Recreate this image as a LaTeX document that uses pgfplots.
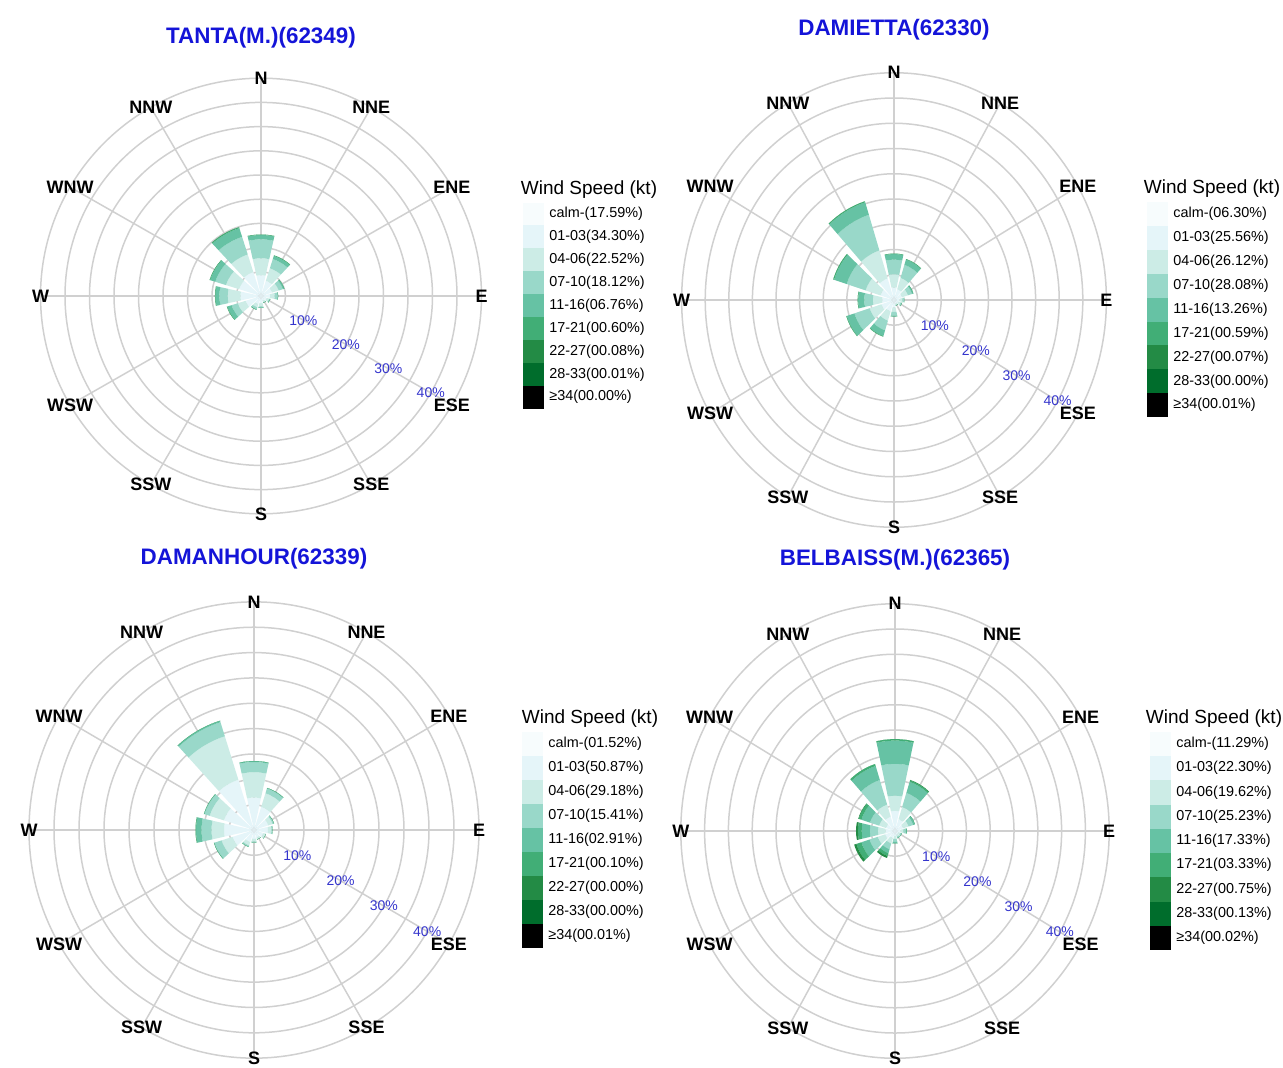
\documentclass[border=0pt]{standalone}
\usepackage{fontspec}
\setmainfont{Liberation Sans}
\usepackage{pgfplots}
\pgfplotsset{compat=1.18}

% BuGn classes for the wind-speed bins
\definecolor{c0}{HTML}{F7FCFD}
\definecolor{c1}{HTML}{E5F5F9}
\definecolor{c2}{HTML}{CCECE6}
\definecolor{c3}{HTML}{99D8C9}
\definecolor{c4}{HTML}{66C2A4}
\definecolor{c5}{HTML}{41AE76}
\definecolor{c6}{HTML}{238B45}
\definecolor{c7}{HTML}{006D2C}
\definecolor{c8}{HTML}{000000}
\definecolor{titleblue}{HTML}{1414D8}
\definecolor{pctblue}{HTML}{3434CC}
\definecolor{ringgray}{HTML}{D0D0D0}

% half opening of each direction sector (degrees)
\def\halfw{12.5}
\def\sx{1}\def\sy{1}

% one annular segment: inner radius, outer radius (percent), colour
\newcommand\annseg[3]{%
  \pgfsetfillcolor{#3}%
  \pgfpathmoveto{\pgfpointpolar{\aa}{#1 pt}}%
  \pgfpathlineto{\pgfpointpolar{\aa}{#2 pt}}%
  \pgfpatharc{\aa}{\ab}{#2 pt}%
  \pgfpathlineto{\pgfpointpolar{\ab}{#1 pt}}%
  \pgfpatharc{\ab}{\aa}{#1 pt}%
  \pgfpathclose
  \pgfusepathqfill}

% stacked bar of one direction; the mark sits on the middle of its outer edge.
% \dd bearing, \rA..\rF cumulative radii (%), \sx/\sy pt per percent
\pgfdeclareplotmark{windsector}{%
  \pgfkeys{/pgf/fpu=false}%
  \pgfmathsetmacro\al{90-\dd}%
  \pgfmathsetmacro\ac{\al+180}%
  \pgfmathsetmacro\aa{\al-\halfw}%
  \pgfmathsetmacro\ab{\al+\halfw}%
  \pgftransformcm{\sx}{0}{0}{\sy}{\pgfpointorigin}%
  \pgftransformshift{\pgfpointpolar{\ac}{\rF pt}}%
  \annseg{0.01}{\rA}{c1}%
  \annseg{\rA}{\rB}{c2}%
  \annseg{\rB}{\rC}{c3}%
  \annseg{\rC}{\rD}{c4}%
  \annseg{\rD}{\rE}{c5}%
  \annseg{\rE}{\rF}{c6}%
}

\pgfplotsset{
  rose/.style={hide axis, anchor=center, clip=false,
    xmin=-47, xmax=47, ymin=-47, ymax=47},
}
\tikzset{
  ringline/.style={ringgray, line width=0.75pt},
  dirlab/.style={font=\bfseries\fontsize{9}{9}\selectfont, text=black, inner sep=0pt},
  pctlab/.style={font=\fontsize{7}{7}\selectfont, text=pctblue, inner sep=0pt},
  titlelab/.style={font=\bfseries\fontsize{11.2}{11.2}\selectfont, text=titleblue, inner sep=0pt},
  legtitle/.style={font=\fontsize{9.5}{9.5}\selectfont, inner sep=0pt},
  legtext/.style={font=\fontsize{7.2}{7.2}\selectfont, anchor=west, inner sep=0pt},
}

% a complete rose: centre x, centre y (pt), pt per percent in x and in y, data
% data columns: d = bearing; cumulative frequency (%) at the outer edge of
% b1 = 01-03, b2 = 04-06, b3 = 07-10, b4 = 11-16, b5 = 17-21, b6 = 22-27 kt
\newcommand\rosepanel[5]{%
  \def\sx{#3}\def\sy{#4}%
  \begin{axis}[rose, at={(#1pt,#2pt)}, x=#3pt, y=#4pt]
    \pgfplotsinvokeforeach{5,10,...,45}{%
      \draw[ringline] (axis cs:0,0) ellipse [x radius=##1, y radius=##1];}
    \pgfplotsinvokeforeach{0,30,...,330}{%
      \draw[ringline] (axis cs:0,0) -- (axis cs:{45*sin(##1)},{45*cos(##1)});}
    \addplot[scatter, only marks, mark=windsector, point meta=y,
      scatter/@pre marker code/.code={\pgfscope},
      scatter/@post marker code/.code={\endpgfscope},
      visualization depends on={value \thisrow{d}\as\dd},
      visualization depends on={value \thisrow{b1}\as\rA},
      visualization depends on={value \thisrow{b2}\as\rB},
      visualization depends on={value \thisrow{b3}\as\rC},
      visualization depends on={value \thisrow{b4}\as\rD},
      visualization depends on={value \thisrow{b5}\as\rE},
      visualization depends on={value \thisrow{b6}\as\rF}]
      table[row sep=\\, x expr={\thisrow{b6}*sin(\thisrow{d})},
            y expr={\thisrow{b6}*cos(\thisrow{d})}] {#5};
    \node[dirlab] at (axis cs:0,45) {N};
    \node[dirlab] at (axis cs:{45*sin(30)},{45*cos(30)}) {NNE};
    \node[dirlab] at (axis cs:{45*sin(60)},{45*cos(60)}) {ENE};
    \node[dirlab] at (axis cs:45,0) {E};
    \node[dirlab] at (axis cs:{45*sin(120)},{45*cos(120)}) {ESE};
    \node[dirlab] at (axis cs:{45*sin(150)},{45*cos(150)}) {SSE};
    \node[dirlab] at (axis cs:0,-45) {S};
    \node[dirlab] at (axis cs:{45*sin(210)},{45*cos(210)}) {SSW};
    \node[dirlab] at (axis cs:{45*sin(240)},{45*cos(240)}) {WSW};
    \node[dirlab] at (axis cs:-45,0) {W};
    \node[dirlab] at (axis cs:{45*sin(300)},{45*cos(300)}) {WNW};
    \node[dirlab] at (axis cs:{45*sin(330)},{45*cos(330)}) {NNW};
    \node[pctlab] at (axis cs:{10*sin(120)},{10*cos(120)}) {10\%};
    \node[pctlab] at (axis cs:{20*sin(120)},{20*cos(120)}) {20\%};
    \node[pctlab] at (axis cs:{30*sin(120)},{30*cos(120)}) {30\%};
    \node[pctlab] at (axis cs:{40*sin(120)},{40*cos(120)}) {40\%};
  \end{axis}}

% legend: patch left x, first row y, row step, title x, title y, entries
\newcommand\windlegend[6]{%
  \node[legtitle] at (#4,#5) {Wind Speed (kt)};
  \foreach \v [count=\i from 0] in {#6}{%
    \fill[fill=c\i] (#1,{#2+(\i-0.5)*#3}) rectangle ++(21,#3);
    \node[legtext] at ({#1+26},{#2+\i*#3}) {\v};
  }%
}

\begin{document}
\begin{tikzpicture}
\useasboundingbox (0,0) rectangle (641.5pt,-533.5pt);

% TANTA(M.)(62349)
\rosepanel{130.5}{-148}{2.45}{2.42}{
d   b1   b2   b3   b4   b5   b6 \\
0   4.3  7.8  11.7 12.6 12.7 12.7 \\
30  3.3  6.0  8.0  8.7  8.8  8.8 \\
60  2.4  3.8  4.7  5.0  5.0  5.0 \\
90  1.9  2.8  3.4  3.5  3.5  3.5 \\
120 1.3  1.8  2.0  2.0  2.0  2.0 \\
150 1.0  1.4  1.5  1.5  1.5  1.5 \\
180 1.5  2.2  2.5  2.5  2.5  2.5 \\
210 1.8  2.5  2.9  3.0  3.0  3.0 \\
240 3.3  5.0  6.3  7.2  7.3  7.3 \\
270 4.2  6.8  8.5  9.3  9.4  9.4 \\
300 4.7  7.5  9.8  10.9 11.0 11.0 \\
330 5.2  9.0  12.8 14.7 14.9 14.9 \\
}
% DAMIETTA(62330)
\rosepanel{447}{-150}{2.36}{2.525}{
d   b1   b2   b3   b4   b5   b6 \\
0   2.5  5.1  8.0  9.1  9.2  9.2 \\
30  2.3  4.6  7.3  8.4  8.5  8.5 \\
60  1.8  3.1  4.0  4.3  4.3  4.3 \\
90  1.2  1.8  2.2  2.2  2.2  2.2 \\
120 1.0  1.5  1.8  1.8  1.8  1.8 \\
150 0.8  1.1  1.2  1.2  1.2  1.2 \\
180 1.5  2.4  3.1  3.3  3.3  3.3 \\
210 2.4  4.3  6.3  7.5  7.6  7.6 \\
240 2.8  5.4  8.8  10.5 10.6 10.6 \\
270 2.5  4.5  6.3  7.6  7.7  7.7 \\
300 3.0  6.3  10.5 13.3 13.5 13.5 \\
330 4.5  10.3 17.7 20.3 20.5 20.5 \\
}
% DAMANHOUR(62339)
\rosepanel{127}{-415}{2.5}{2.535}{
d   b1   b2   b3   b4   b5   b6 \\
0   6.4  11.4 13.4 13.6 13.6 13.6 \\
30  4.8  7.6  8.6  8.7  8.7  8.7 \\
60  3.0  3.9  4.2  4.2  4.2  4.2 \\
90  2.8  3.5  3.7  3.7  3.7  3.7 \\
120 2.0  2.5  2.5  2.5  2.5  2.5 \\
150 1.6  2.0  2.0  2.0  2.0  2.0 \\
180 1.8  2.3  2.5  2.5  2.5  2.5 \\
210 2.5  3.2  3.5  3.5  3.5  3.5 \\
240 4.5  6.8  8.3  8.4  8.4  8.4 \\
270 6.0  8.5  10.5 11.6 11.7 11.7 \\
300 6.3  9.3  10.4 10.5 10.5 10.5 \\
330 10.4 19.4 22.3 22.6 22.6 22.6 \\
}
% BELBAISS(M.)(62365)
\rosepanel{447.5}{-415.5}{2.38}{2.525}{
d   b1   b2   b3   b4   b5   b6 \\
0   4.0  7.0  13.3 17.9 18.2 18.2 \\
30  2.5  5.0  7.9  10.2 10.5 10.6 \\
60  1.8  3.0  4.0  4.4  4.4  4.4 \\
90  1.2  1.8  2.3  2.5  2.5  2.5 \\
120 0.8  1.2  1.5  1.5  1.5  1.5 \\
150 0.8  1.2  1.5  1.5  1.5  1.5 \\
180 1.0  1.6  2.2  2.5  2.5  2.5 \\
210 1.5  2.6  3.8  4.6  5.2  5.6 \\
240 2.2  3.8  5.6  7.4  8.5  9.0 \\
270 2.0  3.6  5.3  7.0  7.8  8.2 \\
300 2.0  3.5  5.5  7.4  8.0  8.1 \\
330 3.0  5.5  10.6 13.5 13.9 13.9 \\
}

\node[titlelab] at (130.5pt,-19pt) {TANTA(M.)(62349)};
\node[titlelab] at (447pt,-15pt) {DAMIETTA(62330)};
\node[titlelab] at (127pt,-279.5pt) {DAMANHOUR(62339)};
\node[titlelab] at (447.5pt,-280pt) {BELBAISS(M.)(62365)};

\begin{scope}[x=0.5pt, y=-0.5pt]
\windlegend{523}{214}{22.9}{589}{190}{calm-(17.59\%),01-03(34.30\%),04-06(22.52\%),07-10(18.12\%),11-16(06.76\%),17-21(00.60\%),22-27(00.08\%),28-33(00.01\%),≥34(00.00\%)}
\windlegend{1147}{214}{23.9}{1212}{189}{calm-(06.30\%),01-03(25.56\%),04-06(26.12\%),07-10(28.08\%),11-16(13.26\%),17-21(00.59\%),22-27(00.07\%),28-33(00.00\%),≥34(00.01\%)}
\windlegend{522}{744}{24}{590}{719}{calm-(01.52\%),01-03(50.87\%),04-06(29.18\%),07-10(15.41\%),11-16(02.91\%),17-21(00.10\%),22-27(00.00\%),28-33(00.00\%),≥34(00.01\%)}
\windlegend{1150}{744}{24.25}{1214}{719}{calm-(11.29\%),01-03(22.30\%),04-06(19.62\%),07-10(25.23\%),11-16(17.33\%),17-21(03.33\%),22-27(00.75\%),28-33(00.13\%),≥34(00.02\%)}
\end{scope}
\end{tikzpicture}
\end{document}
